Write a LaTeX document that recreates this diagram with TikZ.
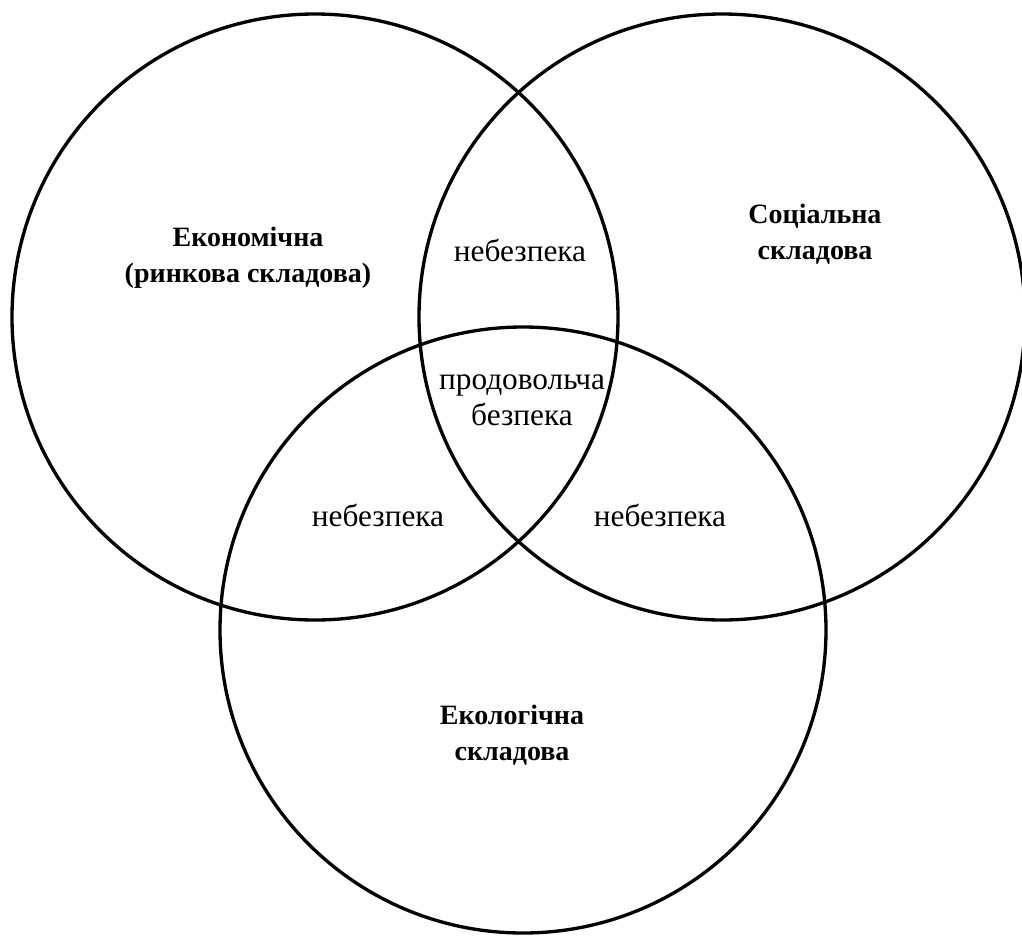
\documentclass[tikz,border=0pt]{standalone}
\usepackage{fontspec}
\setmainfont{Liberation Serif}
\usepackage{tikz}

\begin{document}
\begin{tikzpicture}[x=0.75pt,y=-0.75pt,
    every node/.style={font=\fontsize{23.5}{27}\selectfont, align=center, inner sep=0pt, outer sep=0pt},
    ring/.style={circle, draw=black, line width=2.5pt, minimum size=454.5pt},
    head/.style={font=\fontsize{21}{27}\selectfont\bfseries}]
    \useasboundingbox (0,0) rectangle (1022,936);
    \node[ring] (econ) at (315,317) {};
    \node[ring] (soc) at (722,317) {};
    \node[ring] (eco) at (523,630) {};
    \node[head] (econlabel) at (248,258) {Економічна\\(ринкова складова)};
    \node[head] (soclabel) at (815,234) {Соціальна\\складова};
    \node[head] (ecolabel) at (512,735) {Екологічна\\складова};
    \node (dangertop) at (520,250) {небезпека};
    \node (dangerleft) at (378,515) {небезпека};
    \node (dangerright) at (660,515) {небезпека};
    \node (food) at (522,400) {продовольча\\безпека};
\end{tikzpicture}
\end{document}
